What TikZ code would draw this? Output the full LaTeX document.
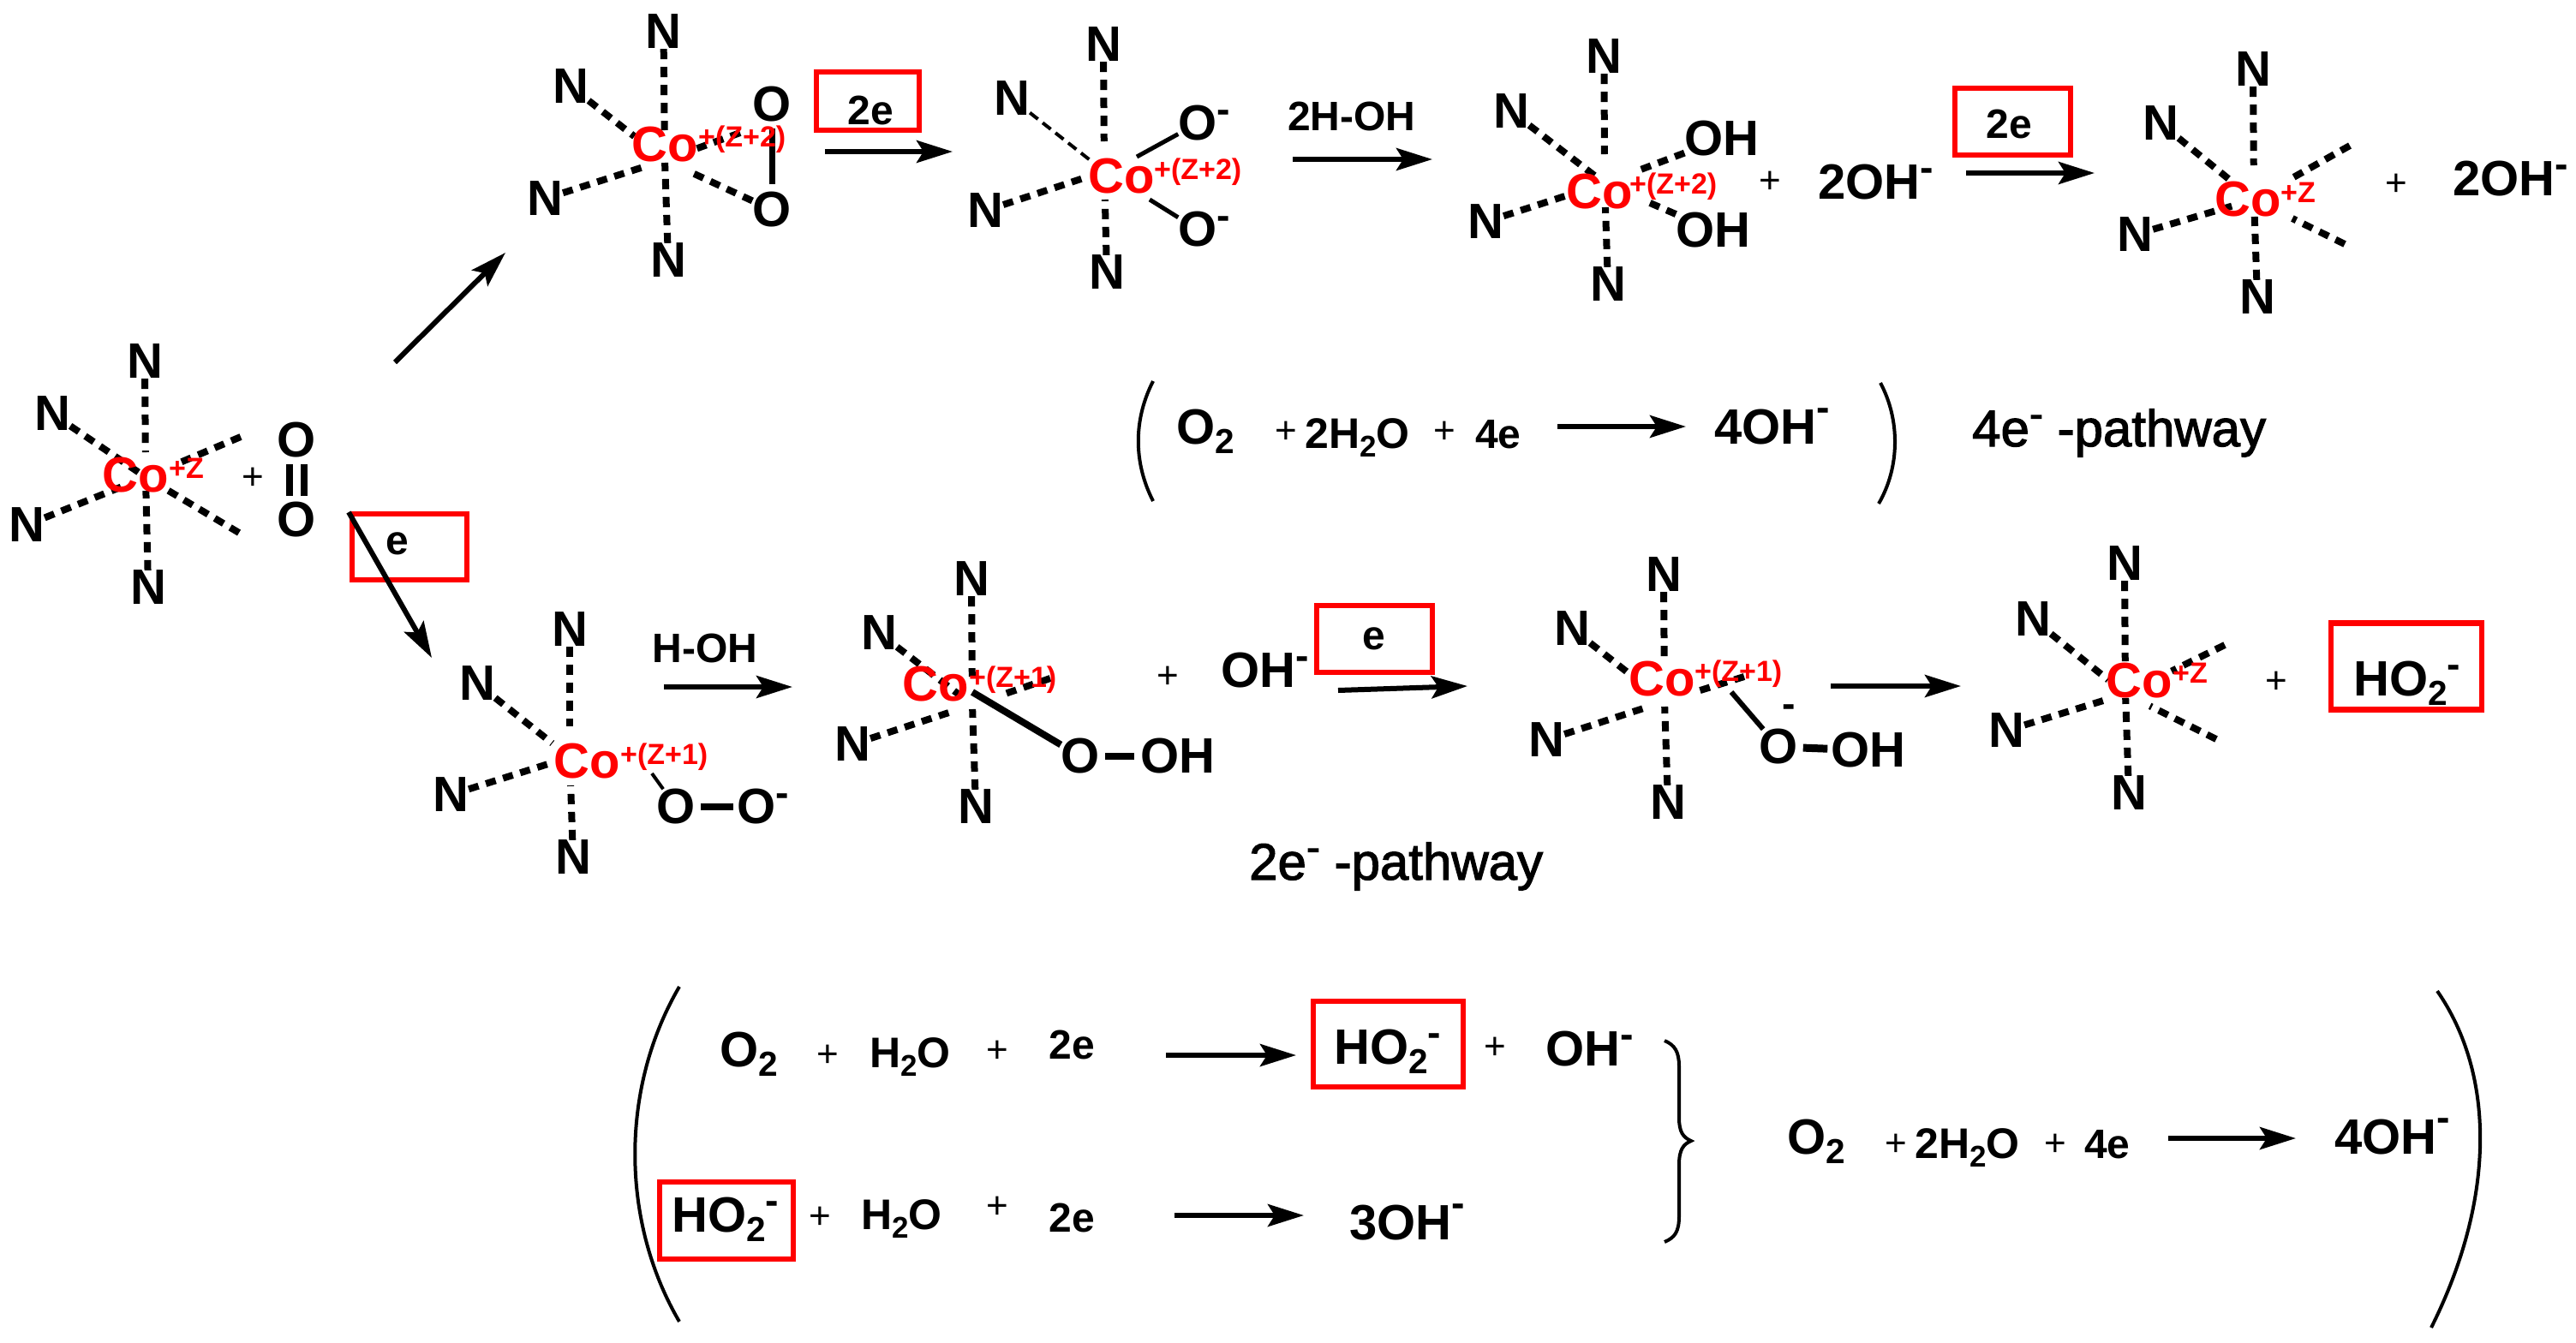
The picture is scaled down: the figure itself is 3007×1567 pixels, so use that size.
\documentclass[tikz,border=0pt]{standalone}
\usepackage{graphicx}
\usepackage{fontspec}
\setmainfont{Liberation Sans}
\newfontface\pathfont[FakeBold=2]{Liberation Sans}
\usepackage{tikz}
\usetikzlibrary{arrows.meta}
\definecolor{cored}{rgb}{1,0,0}
\newcommand{\lowtwo}{\raisebox{-.2em}{\scalebox{.7}{2}}}
\newcommand{\upminus}[1][.36em]{\raisebox{#1}{\scalebox{.8}{-}}}
\tikzset{
  atom/.style={inner sep=0pt,font=\fontsize{58}{58}\selectfont\bfseries},
  colabel/.style={inner sep=0pt,text=cored,font=\fontsize{58}{58}\selectfont\bfseries},
  cosup/.style={inner sep=0pt,anchor=base west,text=cored,font=\fontsize{34}{34}\selectfont\bfseries},
  lab/.style={inner sep=0pt,font=\fontsize{48}{48}\selectfont\bfseries},
  formula/.style={inner sep=0pt,anchor=base west,font=\fontsize{58}{58}\selectfont\bfseries},
  smallformula/.style={inner sep=0pt,anchor=base west,font=\fontsize{50}{50}\selectfont\bfseries},
  pathlabel/.style={inner sep=0pt,anchor=base west,font=\pathfont\fontsize{60}{60}\selectfont},
  plussign/.style={inner sep=0pt,font=\fontsize{44}{44}\selectfont},
  redbox/.style={draw=cored,line width=6.5pt,inner sep=0pt},
  dashbond/.style={line width=8pt,dash pattern=on 12pt off 9pt},
  thinbond/.style={line width=4pt,dash pattern=on 12pt off 7pt},
  solidbond/.style={line width=6pt},
  arr/.style={line width=6pt,-{Stealth[length=42pt,width=26pt,inset=8pt]}},
  bracket/.style={line width=4pt}
}
\begin{document}
\begin{tikzpicture}[x=1pt,y=1pt,yscale=-1,xscale=1]
\useasboundingbox (0,0) rectangle (3007,1567);

%Complex 1
\coordinate (c1) at (170,557);
\coordinate (e1u) at (281,510);
\coordinate (e1d) at (279,622);
\node (n1t) [atom] at (169,422) {N};
\node (n1u) [atom] at (61,483) {N};
\node (n1l) [atom] at (31,613) {N};
\node (n1b) [atom] at (173,686) {N};
\draw [dashbond,shorten >=29pt] (n1t) -- (c1);
\draw [dashbond] (n1u) -- (c1);
\draw [dashbond,shorten >=31pt] (n1l) -- (c1);
\draw [dashbond,shorten >=16pt] (n1b) -- (c1);
\draw [dashbond,shorten >=38pt] (e1u) -- (c1);
\draw [dashbond,shorten >=30pt] (e1d) -- (c1);
\node (co1) [colabel] at (158,555) {Co};
\node (sup1) [cosup] at (197,558) {+Z};
\node (p1) [plussign] at (295,559) {+};
\node (o1a) [atom] at (346,514) {O};
\node (o1b) [atom] at (346,607) {O};
\draw [line width=8pt,shorten <=7pt,shorten >=7pt] ([xshift=-8.5pt]o1a.south) -- ([xshift=-8.5pt]o1b.north);
\draw [line width=8pt,shorten <=7pt,shorten >=7pt] ([xshift=8.5pt]o1a.south) -- ([xshift=8.5pt]o1b.north);

%Red Box
\node (box1) [redbox,minimum width=134pt,minimum height=77pt] at (478,638.5) {};
\node (e1) [lab] at (464,635) {e};

%Pathway Arrows
\coordinate (ra1) at (461,423);
\coordinate (rb1) at (590,295);
\draw [arr] (ra1) -- (rb1);
\coordinate (ra2) at (407,598);
\coordinate (rb2) at (504,768);
\draw [arr] (ra2) -- (rb2);

%Complex 2
\coordinate (c2) at (776,187);
\coordinate (e2u) at (864,155);
\node (n2t) [atom] at (774.5,37) {N};
\node (n2u) [atom] at (666,101) {N};
\node (n2l) [atom] at (636,232) {N};
\node (n2b) [atom] at (780,304) {N};
\node (o2a) [atom] at (901,122) {O};
\node (o2b) [atom] at (901,245) {O};
\draw [dashbond,shorten >=35pt] (n2t) -- (c2);
\draw [dashbond,shorten >=45pt] (n2u) -- (c2);
\draw [dashbond,shorten >=27pt] (n2l) -- (c2);
\draw [dashbond,shorten >=3pt] (n2b) -- (c2);
\draw [dashbond,shorten >=40pt] (e2u) -- (c2);
\draw [dashbond,shorten >=30pt] (o2b) -- (c2);
\draw [solidbond,line width=7pt,shorten <=7pt,shorten >=9pt] (o2a) -- (o2b);
\node (co2) [colabel] at (776,169) {Co};
\node (sup2) [cosup] at (815,171) {+(Z+2)};

%Red Box
\node (box2) [redbox,minimum width=120pt,minimum height=68pt] at (1013,118) {};
\node (e2) [lab] at (1016,129) {2e};
\coordinate (ra3) at (963,177);
\coordinate (rb3) at (1112,177);
\draw [arr] (ra3) -- (rb3);

%Complex 3
\coordinate (c3) at (1289,200);
\coordinate (s3a) at (1327,183);
\coordinate (s3b) at (1342,233);
\node (n3t) [atom] at (1288,52) {N};
\node (n3u) [atom] at (1181,115) {N};
\node (n3l) [atom] at (1150,246) {N};
\node (n3b) [atom] at (1292,318) {N};
\node (o3a) [atom] at (1398,144) {O\rlap{\upminus}};
\node (o3b) [atom] at (1398,268) {O\rlap{\upminus}};
\draw [dashbond,shorten >=35pt] (n3t) -- (c3);
\draw [thinbond,shorten >=22pt] (n3u) -- (c3);
\draw [dashbond,shorten >=21pt] (n3l) -- (c3);
\draw [dashbond,shorten >=33pt] (n3b) -- (c3);
\draw [solidbond,line width=5pt] (s3a) -- (o3a);
\draw [solidbond,line width=5pt] (s3b) -- (o3b);
\node (co3) [colabel] at (1309,206) {Co};
\node (sup3) [cosup] at (1347,209) {+(Z+2)};

% Text Node
\node (l3) [smallformula,font=\fontsize{48}{48}\selectfont\bfseries] at (1503,152) {2H-OH};
\coordinate (ra4) at (1509,186);
\coordinate (rb4) at (1672,186);
\draw [arr] (ra4) -- (rb4);

%Complex 4
\coordinate (c4) at (1873,214);
\node (n4t) [atom] at (1872.5,66) {N};
\node (n4u) [atom] at (1764,130) {N};
\node (n4l) [atom] at (1734,259) {N};
\node (n4b) [atom] at (1877,332) {N};
\node (oh4a) [atom] at (2010,162) {OH};
\node (oh4b) [atom] at (2000,269) {OH};
\draw [dashbond,shorten >=34pt] (n4t) -- (c4);
\draw [dashbond,shorten >=14pt] (n4u) -- (c4);
\draw [dashbond,shorten >=48pt] (n4l) -- (c4);
\draw [dashbond,shorten >=28pt] (n4b) -- (c4);
\draw [dashbond,shorten >=40pt] (oh4a) -- (c4);
\draw [dashbond,shorten >=50pt] (oh4b) -- (c4);
\node (co4) [colabel] at (1867,224) {Co};
\node (sup4) [cosup] at (1902,226) {+(Z+2)};
\node (p4) [plussign] at (2066,213) {+};
\node (f4) [formula] at (2122,232) {2OH\upminus};

%Red Box
\node (box3) [redbox,minimum width=135pt,minimum height=78pt] at (2349.5,142) {};
\node (e3) [lab] at (2345,145) {2e};
\coordinate (ra5) at (2295,202);
\coordinate (rb5) at (2445,202);
\draw [arr] (ra5) -- (rb5);

%Complex 5
\coordinate (c5) at (2631,233);
\coordinate (e5u) at (2743,170);
\coordinate (e5d) at (2737,285);
\node (n5t) [atom] at (2630,81) {N};
\node (n5u) [atom] at (2522,144) {N};
\node (n5l) [atom] at (2492,274) {N};
\node (n5b) [atom] at (2635,347) {N};
\draw [dashbond,shorten >=40pt] (n5t) -- (c5);
\draw [dashbond,shorten >=30pt] (n5u) -- (c5);
\draw [dashbond,shorten >=25pt] (n5l) -- (c5);
\draw [dashbond,shorten >=20pt] (n5b) -- (c5);
\draw [dashbond,shorten >=50pt] (e5u) -- (c5);
\draw [dashbond,shorten >=50pt] (e5d) -- (c5);
\node (co5) [colabel] at (2624,233) {Co};
\node (sup5) [cosup] at (2662,236) {+Z};
\node (p5) [plussign] at (2797,216) {+};
\node (f5) [formula] at (2863,228) {2OH\upminus};

%Middle Equation
\coordinate (pl1a) at (1346,445);
\coordinate (pl1b) at (1346,585);
\draw [bracket] (pl1a) .. controls (1323,490) and (1323,540) .. (pl1b);
\node (m1) [formula] at (1373,518) {O\lowtwo};
\node (m2) [plussign] at (1501,505) {+};
\node (m3) [smallformula] at (1523,523) {2H\lowtwo O};
\node (m4) [plussign] at (1686,505) {+};
\node (m5) [lab,anchor=base west] at (1722,523) {4e};
\coordinate (ra6) at (1818,498);
\coordinate (rb6) at (1968,498);
\draw [arr] (ra6) -- (rb6);
\node (m6) [formula] at (2001,518) {4OH\upminus[.46em]};
\coordinate (pr1a) at (2195,447);
\coordinate (pr1b) at (2193,588);
\draw [bracket] (pr1a) .. controls (2218,490) and (2218,545) .. (pr1b);
\node (m7) [pathlabel] at (2302,521) {4e\upminus{} -pathway};

%Complex 6
\coordinate (c6) at (665,884);
\coordinate (s6) at (761,903);
\node (n6t) [atom] at (665,735) {N};
\node (n6u) [atom] at (557,798) {N};
\node (n6l) [atom] at (526,928) {N};
\node (n6b) [atom] at (669,1001) {N};
\node (o6a) [atom] at (789,942) {O};
\node (o6b) [atom] at (883,942) {O\rlap{\upminus}};
\draw [dashbond,shorten >=36pt] (n6t) -- (c6);
\draw [dashbond,shorten >=26pt] (n6u) -- (c6);
\draw [dashbond,shorten >=23pt] (n6l) -- (c6);
\draw [dashbond,shorten >=33pt] (n6b) -- (c6);
\draw [line width=4pt] (s6) -- (o6a);
\draw [solidbond,line width=8pt,shorten <=6pt,shorten >=4pt] (o6a) -- (o6b);
\node (co6) [colabel] at (685,889) {Co};
\node (sup6) [cosup] at (724,892) {+(Z+1)};

% Text Node
\node (l6) [lab] at (823,757) {H-OH};
\coordinate (ra7) at (775,802);
\coordinate (rb7) at (925,802);
\draw [arr] (ra7) -- (rb7);

%Complex 7
\coordinate (c7) at (1135,823);
\coordinate (e7u) at (1226,792);
\coordinate (s7) at (1135,808);
\node (n7t) [atom] at (1134,676) {N};
\node (n7u) [atom] at (1026,739) {N};
\node (n7l) [atom] at (995,869) {N};
\node (n7b) [atom] at (1139,942) {N};
\node (o7a) [atom] at (1261,883) {O};
\node (oh7) [atom] at (1375,883) {OH};
\draw [dashbond,shorten >=33pt] (n7t) -- (c7);
\draw [dashbond,shorten >=20pt] (n7u) -- (c7);
\draw [dashbond,shorten >=25pt] (n7l) -- (c7);
\draw [dashbond,shorten >=5pt] (n7b) -- (c7);
\draw [dashbond,shorten >=38pt] (e7u) -- (c7);
\draw [solidbond,line width=8pt] (s7) -- (o7a);
\draw [solidbond,line width=8pt,shorten <=6pt,shorten >=7pt] (o7a) -- (oh7);
\node (co7) [colabel] at (1092,799) {Co};
\node (sup7) [cosup] at (1131,802) {+(Z+1)};
\node (p7) [plussign] at (1363,791) {+};
\node (f7) [formula] at (1425,802) {OH\upminus};

%Red Box
\node (box4) [redbox,minimum width=135pt,minimum height=78pt] at (1604.5,746) {};
\node (e4) [lab] at (1604,746) {e};
\coordinate (ra8) at (1562,806);
\coordinate (rb8) at (1713,801);
\draw [arr] (ra8) -- (rb8);

%Complex 8
\coordinate (c8) at (1943,819);
\coordinate (e8u) at (2036,790);
\coordinate (s8) at (2021,808);
\node (n8t) [atom] at (1942,671) {N};
\node (n8u) [atom] at (1835,734) {N};
\node (n8l) [atom] at (1805,864) {N};
\node (n8b) [atom] at (1947,937) {N};
\node (o8a) [atom] at (2076,872) {O};
\node (oh8) [atom] at (2181,876) {OH};
\draw [dashbond,shorten >=44pt] (n8t) -- (c8);
\draw [dashbond,shorten >=55pt] (n8u) -- (c8);
\draw [dashbond,shorten >=25pt] (n8l) -- (c8);
\draw [dashbond,shorten >=6pt] (n8b) -- (c8);
\draw [dashbond,shorten >=38pt] (e8u) -- (c8);
\draw [solidbond] (s8) -- (o8a);
\draw [solidbond,line width=9pt,shorten <=6pt,shorten >=4pt] (o8a) -- (oh8);
\node (chg8) [atom] at (2088,830) {\scalebox{.8}{-}};
\node (co8) [colabel] at (1940,793) {Co};
\node (sup8) [cosup] at (1978,795) {+(Z+1)};
\coordinate (ra9) at (2137,801);
\coordinate (rb9) at (2289,801);
\draw [arr] (ra9) -- (rb9);

%Complex 9
\coordinate (c9) at (2481,810);
\coordinate (e9u) at (2597,753);
\coordinate (e9d) at (2587,863);
\node (n9t) [atom] at (2480,658) {N};
\node (n9u) [atom] at (2373,723) {N};
\node (n9l) [atom] at (2342,853) {N};
\node (n9b) [atom] at (2485,926) {N};
\draw [dashbond,shorten >=38pt] (n9t) -- (c9);
\draw [dashbond,shorten >=26pt] (n9u) -- (c9);
\draw [dashbond,shorten >=23pt] (n9l) -- (c9);
\draw [dashbond,shorten >=5pt] (n9b) -- (c9);
\draw [dashbond,shorten >=60pt] (e9u) -- (c9);
\draw [dashbond,shorten >=32pt] (e9d) -- (c9);
\node (co9) [colabel] at (2497,795) {Co};
\node (sup9) [cosup] at (2536,797) {+Z};
\node (p9) [plussign] at (2657,797) {+};

%Red Box
\node (box5) [redbox,minimum width=176pt,minimum height=101pt] at (2809,778) {};
\node (f9) [formula] at (2747,812) {HO\lowtwo\upminus};

% Text Node
\node (t2) [pathlabel] at (1458,1027) {2e\upminus{} -pathway};

%Bottom Equations
\coordinate (pl2a) at (793,1152);
\coordinate (pl2b) at (793,1543);
\draw [bracket] (pl2a) .. controls (724,1270) and (724,1425) .. (pl2b);
\node (b1) [formula] at (840,1245) {O\lowtwo};
\node (b2) [plussign] at (966,1233) {+};
\node (b3) [smallformula] at (1015,1246) {H\lowtwo O};
\node (b4) [plussign] at (1164,1228) {+};
\node (b5) [lab] at (1251,1220) {2e};
\coordinate (ra10) at (1361,1232);
\coordinate (rb10) at (1513,1232);
\draw [arr] (ra10) -- (rb10);
\node (box6) [redbox,minimum width=175pt,minimum height=100pt] at (1620.5,1219) {};
\node (b6) [formula] at (1557,1242) {HO\lowtwo\upminus};
\node (b7) [plussign] at (1745,1224) {+};
\node (b8) [formula] at (1804,1244) {OH\upminus};

\node (box7) [redbox,minimum width=156pt,minimum height=90pt] at (848,1425) {};
\node (d1) [formula] at (784,1438) {HO\lowtwo\upminus};
\node (d2) [plussign] at (957,1422) {+};
\node (d3) [smallformula] at (1005,1435) {H\lowtwo O};
\node (d4) [plussign] at (1164,1410) {+};
\node (d5) [lab] at (1251,1422) {2e};
\coordinate (ra11) at (1371,1419);
\coordinate (rb11) at (1522,1419);
\draw [arr] (ra11) -- (rb11);
\node (d6) [formula] at (1575,1447) {3OH\upminus[.46em]};

%Curve Lines
\coordinate (br1) at (1943,1215);
\coordinate (br2) at (1974,1332);
\coordinate (br3) at (1943,1450);
\draw [bracket] (br1) .. controls (1955,1220) and (1960,1228) .. (1960,1245) -- (1960,1305) .. controls (1960,1322) and (1965,1328) .. (br2) .. controls (1965,1336) and (1960,1342) .. (1960,1360) -- (1960,1420) .. controls (1960,1438) and (1955,1445) .. (br3);

\node (g1) [formula] at (2086,1347) {O\lowtwo};
\node (g2) [plussign] at (2213,1337) {+};
\node (g3) [smallformula] at (2235,1352) {2H\lowtwo O};
\node (g4) [plussign] at (2399,1337) {+};
\node (g5) [lab,anchor=base west] at (2433,1352) {4e};
\coordinate (ra12) at (2531,1329);
\coordinate (rb12) at (2680,1329);
\draw [arr] (ra12) -- (rb12);
\node (g6) [formula] at (2725,1347) {4OH\upminus[.46em]};
\coordinate (pr2a) at (2845,1157);
\coordinate (pr2b) at (2838,1550);
\draw [bracket] (pr2a) .. controls (2913,1255) and (2913,1400) .. (pr2b);
\end{tikzpicture}
\end{document}
